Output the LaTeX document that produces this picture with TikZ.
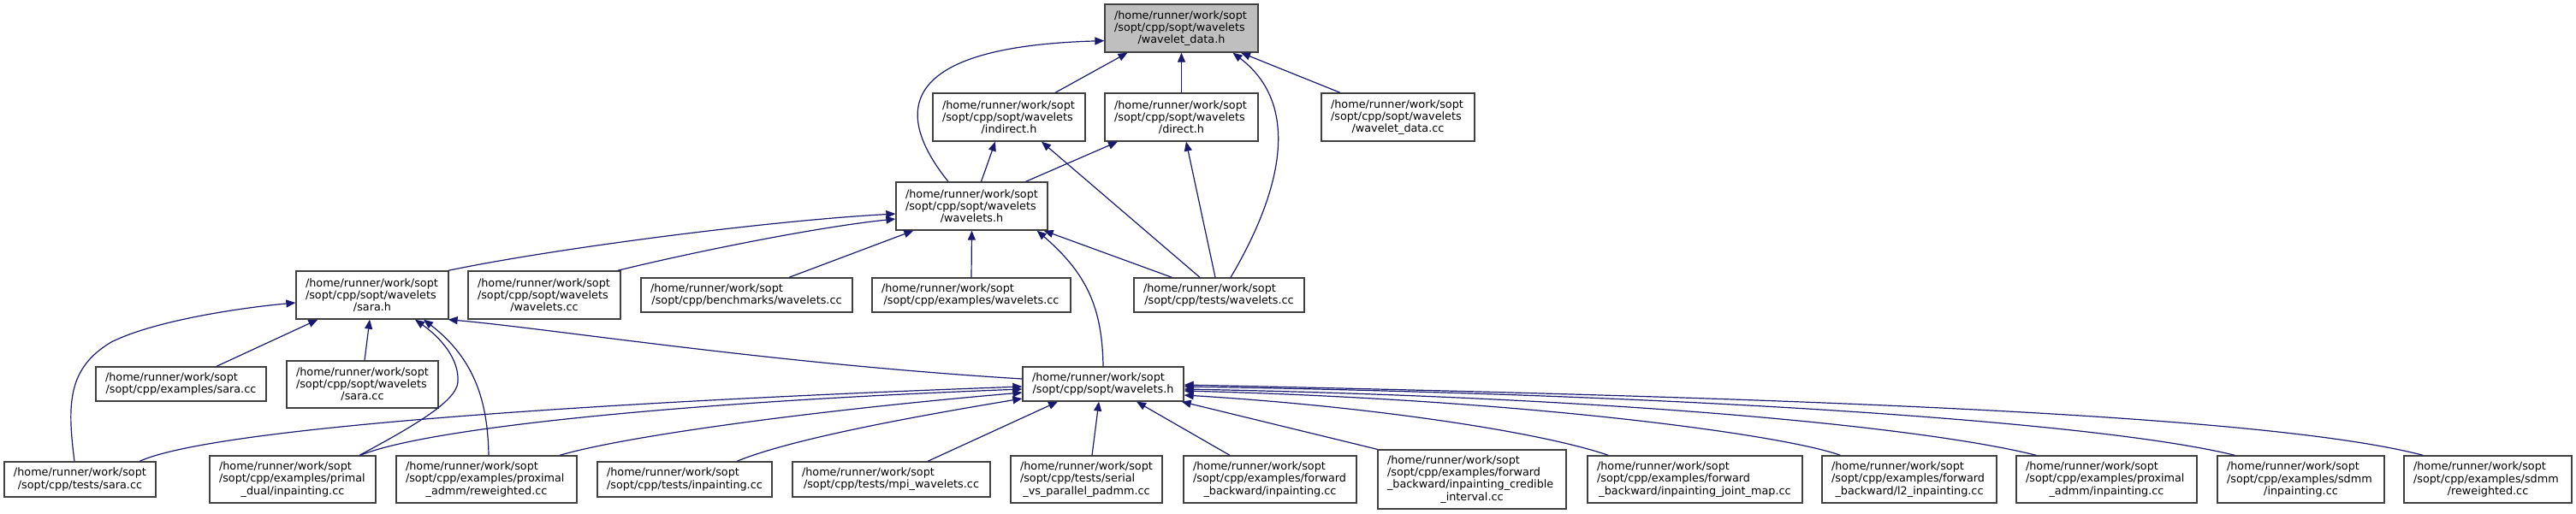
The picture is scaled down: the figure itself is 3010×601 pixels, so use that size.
\documentclass[tikz,border=0pt]{standalone}
\usepackage{fontspec}
\setmainfont{DejaVu Sans}
\usetikzlibrary{arrows.meta}
\definecolor{edgeblue}{HTML}{191970}
\definecolor{rootgray}{HTML}{BFBFBF}
\definecolor{boxline}{HTML}{404040}
\newcommand{\mknode}[8]{\node[filebox,minimum width=#4pt,minimum height=#5pt,#8] (#1) at (#2,#3) {\parbox{\dimexpr#4pt-22pt\relax}{\raggedright#6\par\centering#7}};}
\begin{document}
\begin{tikzpicture}[x=1pt,y=-1pt,
  filebox/.style={draw=boxline,line width=1.3pt,inner sep=0pt,fill=white,
    font=\fontsize{12.8pt}{14.2pt}\selectfont},
  dep/.style={draw=edgeblue,line width=1.2pt,-{Triangle[length=11pt,width=9pt]}}]
\useasboundingbox (0,0) rectangle (3010,601);
% row 1
\mknode{A}{1380.5}{33}{179}{56}{/home/runner/work/sopt\\/sopt/cpp/sopt/wavelets}{/wavelet\_data.h}{fill=rootgray}
% row 2
\mknode{B}{1179}{137}{178}{56}{/home/runner/work/sopt\\/sopt/cpp/sopt/wavelets}{/indirect.h}{}
\mknode{C}{1380.5}{137}{179}{56}{/home/runner/work/sopt\\/sopt/cpp/sopt/wavelets}{/direct.h}{}
\mknode{D}{1633.5}{137}{179}{56}{/home/runner/work/sopt\\/sopt/cpp/sopt/wavelets}{/wavelet\_data.cc}{}
% row 3
\mknode{E}{1135.5}{241}{177}{56}{/home/runner/work/sopt\\/sopt/cpp/sopt/wavelets}{/wavelets.h}{}
% row 4
\mknode{F}{435}{345}{178}{56}{/home/runner/work/sopt\\/sopt/cpp/sopt/wavelets}{/sara.h}{}
\mknode{G}{636}{345}{178}{56}{/home/runner/work/sopt\\/sopt/cpp/sopt/wavelets}{/wavelets.cc}{}
\mknode{H}{872.5}{345}{247}{40}{/home/runner/work/sopt}{/sopt/cpp/benchmarks/wavelets.cc}{}
\mknode{I}{1135}{345}{232}{40}{/home/runner/work/sopt}{/sopt/cpp/examples/wavelets.cc}{}
\mknode{J}{1424.5}{345}{199}{40}{/home/runner/work/sopt}{/sopt/cpp/tests/wavelets.cc}{}
% row 5
\mknode{K}{211.5}{449}{199}{40}{/home/runner/work/sopt}{/sopt/cpp/examples/sara.cc}{}
\mknode{L}{423.5}{449.5}{177}{55}{/home/runner/work/sopt\\/sopt/cpp/sopt/wavelets}{/sara.cc}{}
\mknode{M}{1289}{449}{188}{40}{/home/runner/work/sopt}{/sopt/cpp/sopt/wavelets.h}{}
% row 6
\mknode{N}{93.5}{560.5}{177}{41}{/home/runner/work/sopt}{/sopt/cpp/tests/sara.cc}{}
\mknode{O}{342}{560.5}{194}{55}{/home/runner/work/sopt\\/sopt/cpp/examples/primal}{\_dual/inpainting.cc}{}
\mknode{P}{568.5}{560.5}{211}{55}{/home/runner/work/sopt\\/sopt/cpp/examples/proximal}{\_admm/reweighted.cc}{}
\mknode{Q}{800}{560.5}{204}{41}{/home/runner/work/sopt}{/sopt/cpp/tests/inpainting.cc}{}
\mknode{R}{1041.5}{560.5}{231}{41}{/home/runner/work/sopt}{/sopt/cpp/tests/mpi\_wavelets.cc}{}
\mknode{S}{1269.5}{560.5}{177}{55}{/home/runner/work/sopt\\/sopt/cpp/tests/serial}{\_vs\_parallel\_padmm.cc}{}
\mknode{T}{1484}{560.5}{202}{55}{/home/runner/work/sopt\\/sopt/cpp/examples/forward}{\_backward/inpainting.cc}{}
\mknode{U}{1720}{560.5}{220}{69}{/home/runner/work/sopt\\/sopt/cpp/examples/forward\\\_backward/inpainting\_credible}{\_interval.cc}{}
\mknode{V}{1980.5}{560.5}{251}{55}{/home/runner/work/sopt\\/sopt/cpp/examples/forward}{\_backward/inpainting\_joint\_map.cc}{}
\mknode{W}{2231}{560.5}{204}{55}{/home/runner/work/sopt\\/sopt/cpp/examples/forward}{\_backward/l2\_inpainting.cc}{}
\mknode{X}{2461.5}{560.5}{211}{55}{/home/runner/work/sopt\\/sopt/cpp/examples/proximal}{\_admm/inpainting.cc}{}
\mknode{Y}{2688.5}{560.5}{195}{55}{/home/runner/work/sopt\\/sopt/cpp/examples/sdmm}{/inpainting.cc}{}
\mknode{Z}{2907}{560.5}{196}{55}{/home/runner/work/sopt\\/sopt/cpp/examples/sdmm}{/reweighted.cc}{}
% edges into A
\draw[dep] ([xshift=54pt]B.north) -- ([xshift=-63pt]A.south);
\draw[dep] (C.north) -- (A.south);
\draw[dep] ([xshift=-67.5pt]D.north) -- ([xshift=69.5pt]A.south);
\draw[dep] ([xshift=13.5pt]J.north) .. controls (1485,245) and (1530,130) .. ([xshift=60pt]A.south);
\draw[dep] ([xshift=-27.5pt]E.north) .. controls (1050,140) and (1035,55) .. ([yshift=14pt]A.south west);
% into B, C
\draw[dep] ([xshift=11pt]E.north) -- ([xshift=-16pt]B.south);
\draw[dep] ([xshift=63pt]E.north) -- ([xshift=-74.5pt]C.south);
\draw[dep] ([xshift=-22.5pt]J.north) -- ([xshift=38pt]B.south);
\draw[dep] ([xshift=-4.5pt]J.north) -- ([xshift=5.5pt]C.south);
% into E
\draw[dep] ([xshift=-1pt]F.north east) .. controls (650,290) and (900,258) .. ([yshift=-9pt]E.west);
\draw[dep] ([xshift=-4pt]G.north east) .. controls (800,297) and (950,266) .. ([yshift=-15pt]E.west);
\draw[dep] ([xshift=49.5pt]H.north) -- ([xshift=21pt]E.south west);
\draw[dep] (I.north) -- (E.south);
\draw[dep] ([xshift=45pt]J.north west) -- ([xshift=-5pt]E.south east);
\draw[dep] (M.north) .. controls (1288,360) and (1270,320) .. ([xshift=-13pt]E.south east);
% into F
\draw[dep] ([xshift=-6.5pt]N.north) .. controls (78,470) and (80,430) .. (130,400) .. controls (180,375) and (280,360) .. ([yshift=-9pt]F.west);
\draw[dep] ([xshift=41.5pt]K.north) -- ([xshift=26pt]F.south west);
\draw[dep] ([xshift=2.5pt]L.north) -- ([xshift=-3pt]F.south);
\draw[dep] ([xshift=78pt]O.north) .. controls (480,500) and (533,470) .. (535,447) .. controls (537,420) and (515,395) .. ([xshift=50pt]F.south);
\draw[dep] ([xshift=2.5pt]P.north) .. controls (570,470) and (555,420) .. ([xshift=60pt]F.south);
\draw[dep] ([yshift=6pt]M.west) .. controls (900,425) and (650,385) .. ([xshift=-1pt]F.south east);
% into M
\draw[dep] ([xshift=69.5pt]N.north) .. controls (250,500) and (700,470) .. ([yshift=-3pt]M.west);
\draw[dep] ([xshift=79pt]O.north) .. controls (500,500) and (800,470) .. ([yshift=-6pt]M.west);
\draw[dep] ([xshift=85.5pt]P.north) .. controls (730,510) and (950,480) .. ([yshift=-10pt]M.west);
\draw[dep] ([xshift=61pt]Q.north) .. controls (920,515) and (1050,490) .. ([yshift=-17pt]M.west);
\draw[dep] ([xshift=42.5pt]R.north) -- ([xshift=-53pt]M.south);
\draw[dep] ([xshift=6.5pt]S.north) -- ([xshift=-5pt]M.south);
\draw[dep] ([xshift=-47pt]T.north) -- ([xshift=39pt]M.south);
\draw[dep] (U.north west) -- ([xshift=-3pt]M.south east);
\draw[dep] ([xshift=25pt]V.north west) .. controls (1800,505) and (1600,475) .. ([yshift=-13pt]M.east);
\draw[dep] ([xshift=22pt]W.north west) .. controls (2090,510) and (1800,468) .. ([yshift=-8pt]M.east);
\draw[dep] ([xshift=24pt]X.north west) .. controls (2250,500) and (1900,465) .. ([yshift=-6pt]M.east);
\draw[dep] ([xshift=21pt]Y.north west) .. controls (2460,495) and (2000,462) .. ([yshift=-3pt]M.east);
\draw[dep] ([xshift=23pt]Z.north west) .. controls (2650,485) and (2100,465) .. ([yshift=-1pt]M.east);
\end{tikzpicture}
\end{document}
